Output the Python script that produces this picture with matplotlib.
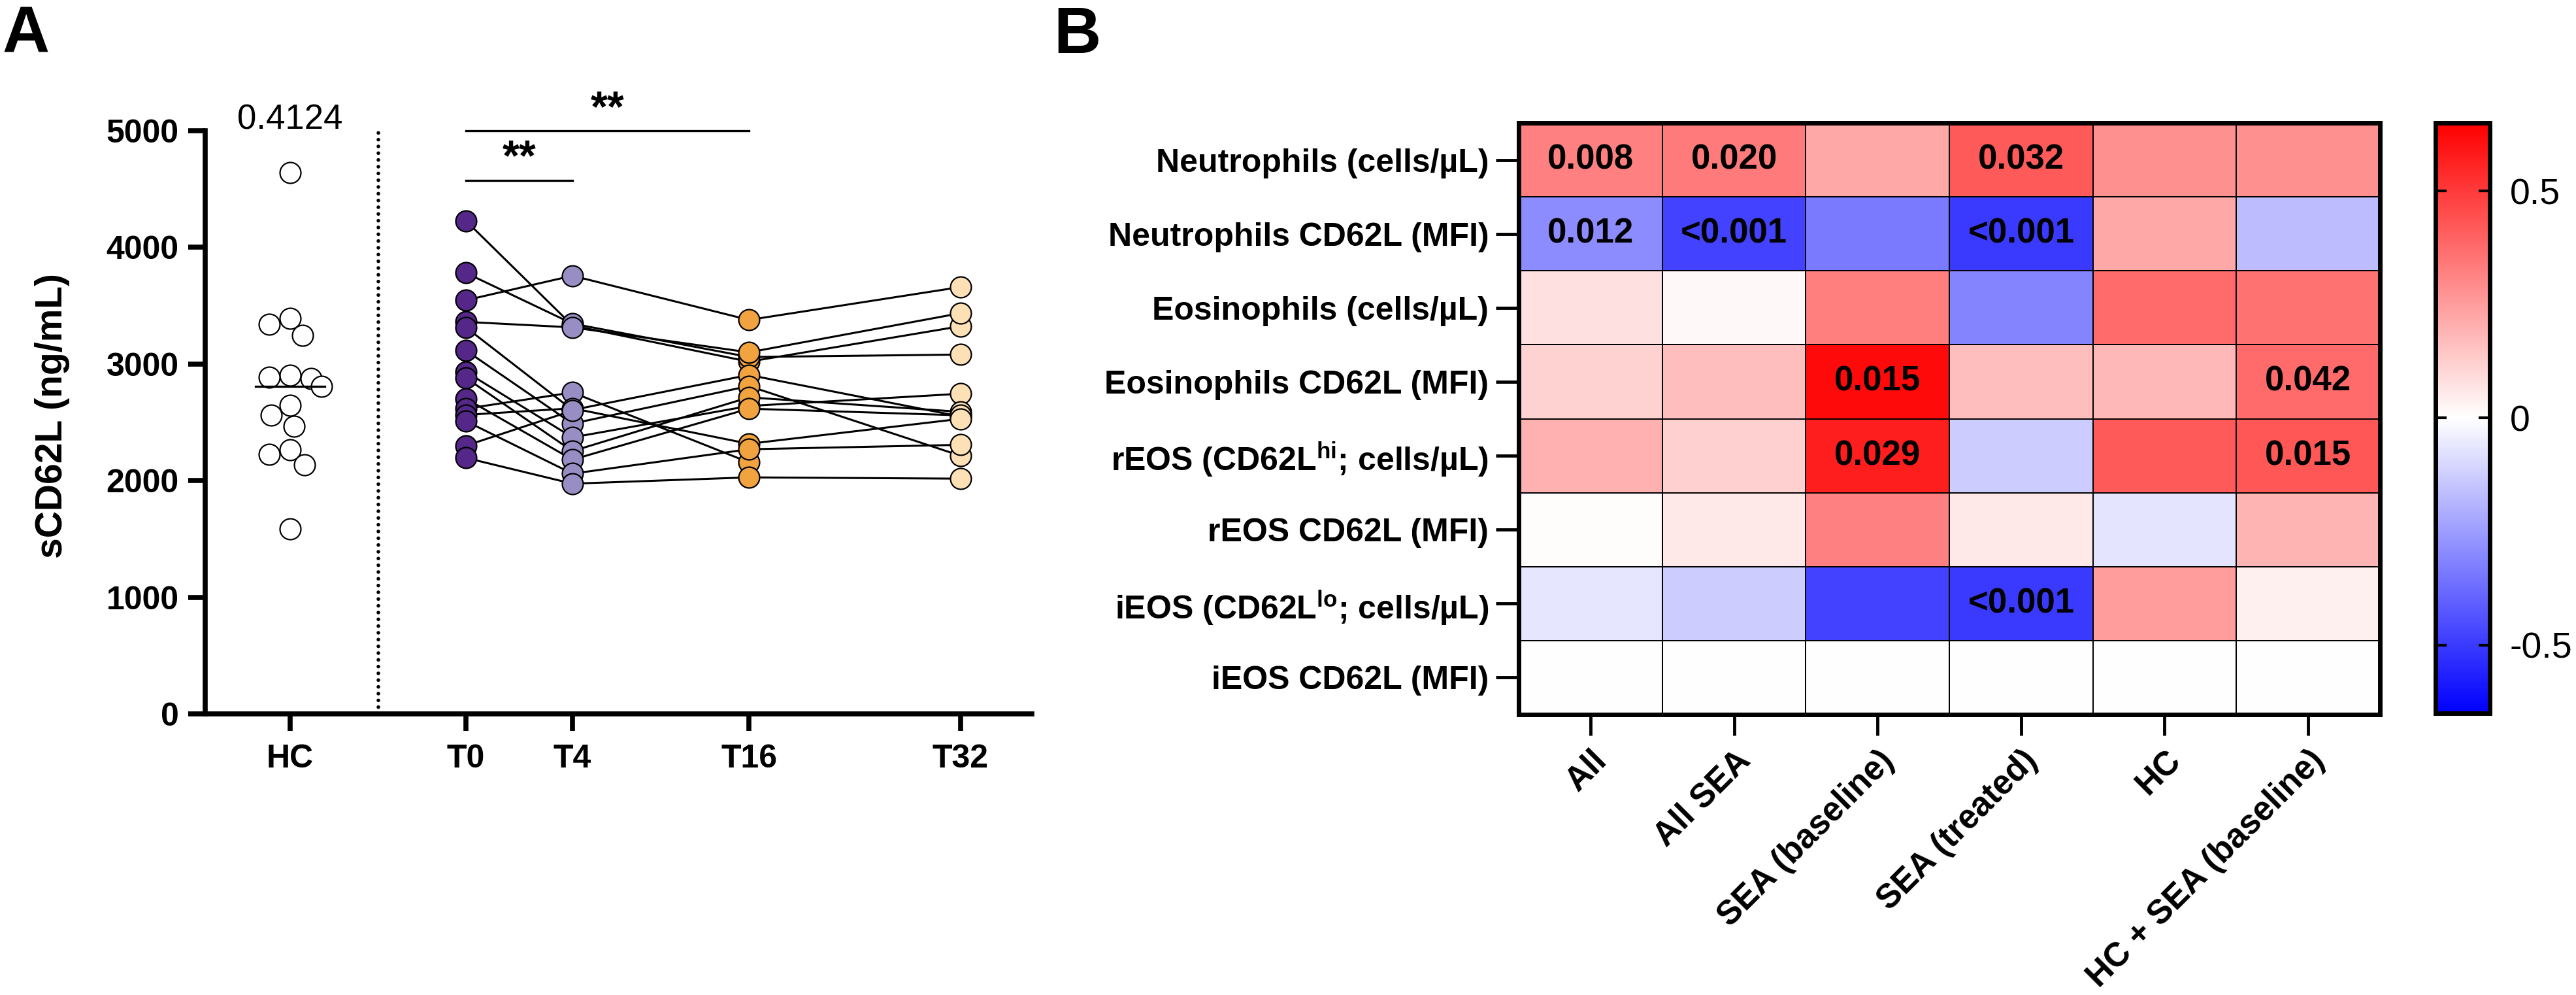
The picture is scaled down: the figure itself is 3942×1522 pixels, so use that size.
import numpy as np
import matplotlib
matplotlib.use('Agg')
import matplotlib.pyplot as plt
from matplotlib.colors import Normalize

plt.rcParams['font.family'] = ['Liberation Sans', 'DejaVu Sans']
plt.rcParams['mathtext.fontset'] = 'custom'
plt.rcParams['mathtext.bf'] = 'Liberation Sans:bold'
plt.rcParams['mathtext.rm'] = 'Liberation Sans'

# ---- Panel A data: sCD62L (ng/mL) ----
hc = [4642, 3389, 3339, 3243, 2906, 2889, 2874, 2806, 2643, 2564, 2467, 2264, 2225, 2133, 1586]
hc_pvalue = '0.4124'

# one entry per SEA patient, nan = no sample
t0 = [4228, 3781, 3547, 3361, 3314, 3116, 2932, 2881, 2703, 2617, 2564, 2510, 2300, 2195]
t4 = [3330, 3346, 3757, 3314, 2606, 2489, 2371, 2253, 2180, 2756, 2620, 2060, 2600, 1974]
t16 = [3020, 3060, 3378, 3100, 2906, 2811, 2640, 2714, 2617, 2157, 2316, 2269, np.nan, 2028]
t32 = [3324, 3081, 3660, 3436, 2550, 2213, 2745, 2590, 2560, np.nan, 2530, 2307, np.nan, 2017]
timepoints = ['T0', 'T4', 'T16', 'T32']
tp_colors = ['#542788', '#998ec3', '#f1a340', '#fee0b6']
sig_bars = [('T0', 'T4', '**'), ('T0', 'T16', '**')]

# ---- Panel B data: correlation r, with p values shown where significant ----
rows = ['Neutrophils (cells/µL)', 'Neutrophils CD62L (MFI)', 'Eosinophils (cells/µL)',
        'Eosinophils CD62L (MFI)', r'rEOS (CD62L$^{\mathbf{hi}}$; cells/µL)',
        'rEOS CD62L (MFI)', r'iEOS (CD62L$^{\mathbf{lo}}$; cells/µL)', 'iEOS CD62L (MFI)']
cols = ['All', 'All SEA', 'SEA (baseline)', 'SEA (treated)', 'HC', 'HC + SEA (baseline)']
r_neut = [0.32, 0.34, 0.22, 0.42, 0.28, 0.28]
r_neut_cd62l = [-0.29, -0.48, -0.34, -0.50, 0.22, -0.17]
r_eos = [0.08, 0.02, 0.33, -0.31, 0.38, 0.36]
r_eos_cd62l = [0.115, 0.165, 0.62, 0.165, 0.18, 0.38]
r_reos = [0.20, 0.12, 0.57, -0.13, 0.42, 0.43]
r_reos_cd62l = [0.01, 0.06, 0.32, 0.06, -0.07, 0.19]
r_ieos = [-0.065, -0.13, -0.48, -0.50, 0.25, 0.04]
r_ieos_cd62l = [0, 0, 0, 0, 0, 0]
p_labels = [['0.008', '0.020', '', '0.032', '', ''],
            ['0.012', '<0.001', '', '<0.001', '', ''],
            ['', '', '', '', '', ''],
            ['', '', '0.015', '', '', '0.042'],
            ['', '', '0.029', '', '', '0.015'],
            ['', '', '', '', '', ''],
            ['', '', '', '<0.001', '', ''],
            ['', '', '', '', '', '']]

W, H = 3942, 1522
fig = plt.figure(figsize=(W / 100, H / 100), dpi=100)

# ================= Panel A =================
xpos = {'HC': 4.44, 'T0': 7.13, 'T4': 8.76, 'T16': 11.46, 'T32': 14.70}
axa = fig.add_axes([314 / W, 1 - 1092 / H, (1579 - 314) / W, (1092 - 200) / H])
axa.set_xlim(3.14, 15.79)
axa.set_ylim(0, 5000)

ms = 23  # marker diameter, points
dx = ms / 72 * 100 / 100   # marker diameter in x data units (1 unit = 100 px)
dy = ms / 72 * 100 / (892 / 5000)


def swarm(vals):
    placed, offs = [], []
    steps = sorted(np.arange(-30, 31) * 0.05 * dx, key=abs)
    for v in vals:
        for c in steps:
            if all(((c - px) / dx) ** 2 + ((v - py) / dy) ** 2 >= 1.0 for px, py in placed):
                break
        placed.append((c, v))
        offs.append(c)
    return offs


hc_off = swarm(hc)
axa.scatter([xpos['HC'] + o for o in hc_off], hc, s=ms ** 2, facecolor='white',
            edgecolor='black', linewidth=1.6, zorder=3)
med = np.median(hc)
axa.plot([xpos['HC'] - 0.53, xpos['HC'] + 0.53], [med, med], color='black', lw=2.4, zorder=4)
axa.text(xpos['HC'], 5093, hc_pvalue, ha='center', va='center', fontsize=38)

series = [t0, t4, t16, t32]
xs = [xpos[t] for t in timepoints]
for i in range(len(t0)):
    vals = [s[i] for s in series]
    for k in range(3):
        if not (np.isnan(vals[k]) or np.isnan(vals[k + 1])):
            axa.plot([xs[k], xs[k + 1]], [vals[k], vals[k + 1]], color='black', lw=2.2, zorder=2)
for k, s in enumerate(series):
    axa.scatter([xs[k]] * len(s), s, s=ms ** 2, facecolor=tp_colors[k],
                edgecolor='black', linewidth=1.6, zorder=3)

# dotted divider
axa.plot([5.79, 5.79], [0, 5000], color='black', lw=4, ls=(0, (0.01, 1.85)),
         dash_capstyle='round', zorder=1)

# significance bars
bar_y = [4572, 5000]
star_y = [4760, 5180]
for (a, b, lab), yb, ys in zip(sig_bars, bar_y, star_y):
    axa.plot([xpos[a], xpos[b]], [yb, yb], color='black', lw=2.4, clip_on=False)
    axa.text((xpos[a] + xpos[b]) / 2, ys, lab, ha='center', va='center',
             fontsize=48, fontweight='bold')

axa.set_yticks([0, 1000, 2000, 3000, 4000, 5000])
axa.set_xticks([xpos[t] for t in ['HC'] + timepoints])
axa.set_xticklabels(['HC'] + timepoints)
for sp in ['top', 'right']:
    axa.spines[sp].set_visible(False)
for sp in ['left', 'bottom']:
    axa.spines[sp].set_linewidth(5.5)
axa.tick_params(axis='both', length=19, width=5.5, labelsize=36)
axa.tick_params(axis='y', pad=10)
axa.tick_params(axis='x', pad=14)
for lab in axa.get_xticklabels() + axa.get_yticklabels():
    lab.set_fontweight('bold')
fig.text(80 / W, 1 - 636 / H, 'sCD62L (ng/mL)', rotation=90, ha='center', va='center',
         fontsize=41, fontweight='bold')

# ================= Panel B =================
r_vals = np.array([r_neut, r_neut_cd62l, r_eos, r_eos_cd62l, r_reos,
                   r_reos_cd62l, r_ieos, r_ieos_cd62l])
norm = Normalize(vmin=-0.65, vmax=0.65)
axb = fig.add_axes([2324 / W, 1 - 1093 / H, (3642 - 2324) / W, (1093 - 188) / H])
mesh = axb.pcolormesh(r_vals, cmap='bwr', norm=norm, edgecolors='black', linewidth=1.2)
axb.set_xlim(0, len(cols))
axb.set_ylim(len(rows), 0)
for i in range(len(rows)):
    for j in range(len(cols)):
        if p_labels[i][j]:
            axb.text(j + 0.5, i + 0.5, p_labels[i][j], ha='center', va='center',
                     fontsize=38, fontweight='bold')
axb.set_yticks(np.arange(len(rows)) + 0.5)
axb.set_yticklabels(rows, fontsize=36, fontweight='bold')
axb.set_xticks(np.arange(len(cols)) + 0.5)
axb.set_xticklabels(cols, fontsize=37, fontweight='bold', rotation=45, ha='right',
                    rotation_mode='anchor')
for sp in axb.spines.values():
    sp.set_linewidth(5)
axb.tick_params(axis='y', length=25, width=3.5, pad=8)
axb.tick_params(axis='x', length=23, width=3.5, pad=10)

cax = fig.add_axes([3727 / W, 1 - 1091 / H, (3810 - 3727) / W, (1091 - 188) / H])
cb = fig.colorbar(mesh, cax=cax, ticks=[-0.5, 0, 0.5])
cb.ax.set_yticklabels(['-0.5', '0', '0.5'])
cb.outline.set_linewidth(5)
cb.ax.minorticks_off()
cax.tick_params(which='both', direction='in', left=True, right=True, length=12,
                width=3, labelsize=40, pad=22)

# panel letters
fig.text(4 / W, 1 - 8 / H, 'A', fontsize=72, fontweight='bold', ha='left', va='top')
fig.text(1612 / W, 1 - 8 / H, 'B', fontsize=72, fontweight='bold', ha='left', va='top')

fig.savefig('out.png', dpi=100)
